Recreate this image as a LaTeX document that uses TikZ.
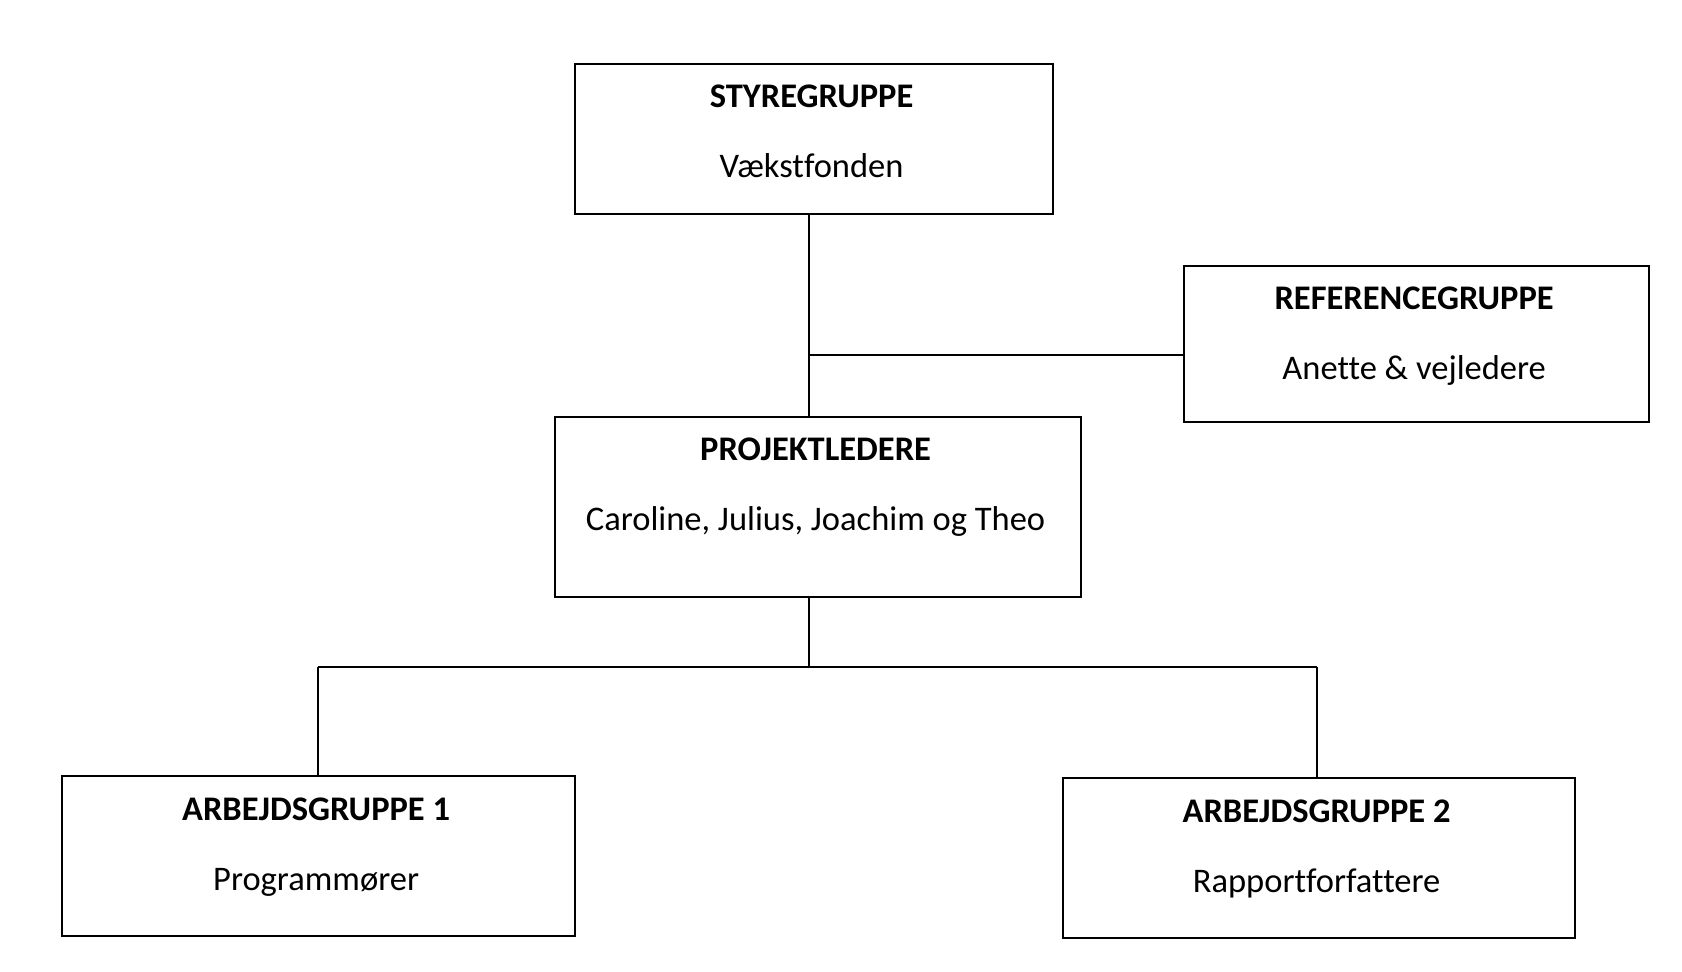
\documentclass[tikz,border=0pt]{standalone}
\usepackage{fontspec}
\setmainfont{Carlito}[Ligatures=NoCommon]
\begin{document}
\begin{tikzpicture}[x=0.5pt,y=-0.5pt,
  box/.style={draw,line width=1pt,inner sep=0pt,rectangle},
  ttl/.style={anchor=base,font=\fontsize{17.25}{20}\selectfont\bfseries,inner sep=0pt,xshift=-1.2pt},
  sub/.style={anchor=base,font=\fontsize{17.25}{20}\selectfont,inner sep=0pt,xshift=-1.2pt},
  vline/.style={line width=0.7pt},
  hline/.style={line width=1pt}]
\useasboundingbox (0,0) rectangle (1682,972);
\node[box,minimum width=239pt,minimum height=75pt] (top) at (814,139) {};
\node[box,minimum width=232.5pt,minimum height=78pt] (ref) at (1416.5,344) {};
\node[box,minimum width=263pt,minimum height=90pt] (mid) at (818,507) {};
\node[box,minimum width=256.5pt,minimum height=80pt] (ag1) at (318.5,856) {};
\node[box,minimum width=256pt,minimum height=80pt] (ag2) at (1319,858) {};
\node[ttl] (topT) at ([yshift=-22.5pt]top.north) {STYREGRUPPE};
\node[sub] (topS) at ([yshift=-57.5pt]top.north) {Vækstfonden};
\node[ttl] (refT) at ([yshift=-22.5pt]ref.north) {REFERENCEGRUPPE};
\node[sub] (refS) at ([yshift=-57.5pt]ref.north) {Anette \& vejledere};
\node[ttl] (midT) at ([yshift=-22.5pt]mid.north) {PROJEKTLEDERE};
\node[sub] (midS) at ([yshift=-57.5pt]mid.north) {Caroline, Julius, Joachim og Theo};
\node[ttl] (ag1T) at ([yshift=-22.5pt]ag1.north) {ARBEJDSGRUPPE 1};
\node[sub] (ag1S) at ([yshift=-57.5pt]ag1.north) {Programmører};
\node[ttl] (ag2T) at ([yshift=-22.5pt]ag2.north) {ARBEJDSGRUPPE 2};
\node[sub] (ag2S) at ([yshift=-57.5pt]ag2.north) {Rapportforfattere};
\coordinate (j1) at (809,355);
\coordinate (j2) at (809,667);
\coordinate (cl) at (318,667);
\coordinate (cr) at (1317,667);
\draw[vline] (top.south -| j1) -- (mid.north -| j1);
\draw[hline] (j1) -- (j1 -| ref.west);
\draw[vline] (mid.south -| j2) -- (j2);
\draw[hline] (cl) -- (cr);
\draw[vline] (cl) -- (cl |- ag1.north);
\draw[vline] (cr) -- (cr |- ag2.north);
\end{tikzpicture}
\end{document}
